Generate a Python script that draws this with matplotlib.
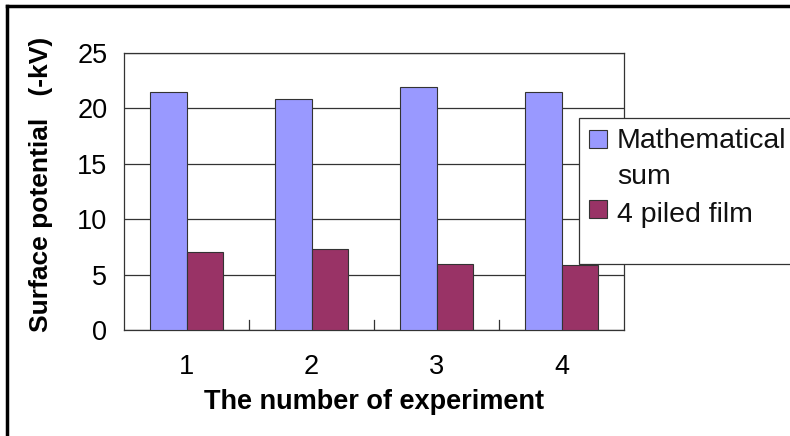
import matplotlib.pyplot as plt
import numpy as np
from matplotlib.patches import Rectangle
from matplotlib.lines import Line2D

plt.rcParams['font.family'] = ['Liberation Sans', 'DejaVu Sans']

# data
experiments = ['1', '2', '3', '4']
math_sum = [21.5, 20.85, 21.9, 21.5]
piled_film = [7.0, 7.3, 6.0, 5.9]
y_ticks = [0, 5, 10, 15, 20, 25]
series_names = ['Mathematical\nsum', '4 piled film']

blue = '#9999FF'
maroon = '#993366'
edge = '#333333'

fig = plt.figure(figsize=(7.9, 4.36), dpi=100)
W, H = 790, 436
# plot area in pixels: x 124..624, y 53..330
ax = fig.add_axes([124 / W, 1 - 330 / H, 500 / W, 277 / H])

x = np.arange(len(experiments))
bw = 0.29
ax.bar(x - bw / 2, math_sum, bw, color=blue, edgecolor=edge, linewidth=0.8, zorder=3)
ax.bar(x + bw / 2, piled_film, bw, color=maroon, edgecolor=edge, linewidth=0.8, zorder=3)

ax.set_xlim(-0.5, len(experiments) - 0.5)
ax.set_ylim(0, 25)
ax.set_yticks(y_ticks)
ax.set_yticklabels([str(v) for v in y_ticks], fontsize=19.5)
ax.yaxis.grid(True, color=edge, linewidth=0.9, zorder=0)
ax.tick_params(axis='y', length=0, pad=12)

# category labels at centres, tick marks at boundaries
ax.set_xticks(x)
ax.set_xticklabels(experiments, fontsize=19.5)
ax.tick_params(axis='x', length=0, pad=17)
for b in x[:-1] + 0.5:
    ax.plot([b, b], [0, 0.9], color=edge, linewidth=0.9, zorder=2)

for s in ax.spines.values():
    s.set_color(edge)
    s.set_linewidth(0.9)

ax.set_xlabel('The number of experiment', fontsize=19.5, fontweight='bold', labelpad=7)
fig.text(41 / W, 1 - 184 / H, 'Surface potential   (-kV)', rotation=90,
         fontsize=19, fontweight='bold', ha='center', va='center')

# legend box running off the right edge, drawn by hand so the key sits on the first line
fig.patches.append(Rectangle((579 / W, 1 - 264 / H), 230 / W, 146 / H,
                             transform=fig.transFigure, facecolor='white',
                             edgecolor=edge, linewidth=0.9, zorder=5))
key_tops = [130, 200]
text_base = [148, 222]
for name, col, kt, tb in zip(series_names, [blue, maroon], key_tops, text_base):
    fig.patches.append(Rectangle((589 / W, 1 - (kt + 18) / H), 18 / W, 18 / H,
                                 transform=fig.transFigure, facecolor=col,
                                 edgecolor=edge, linewidth=0.8, zorder=6))
    lines = name.split('\n')
    fig.text(617 / W, 1 - tb / H, lines[0], fontsize=20.5,
             color='#111111', va='baseline', ha='left', zorder=7)
    if len(lines) > 1:
        fig.text(617 / W, 1 - (tb + 36) / H, lines[1], fontsize=20.5,
                 color='#111111', va='baseline', ha='left', zorder=7)

# outer chart frame (top and left edges only are visible)
fig.lines.append(Line2D([7 / W, 1], [1 - 6 / H, 1 - 6 / H], transform=fig.transFigure,
                        color='black', linewidth=2.5))
fig.lines.append(Line2D([7 / W, 7 / W], [0, 1 - 6 / H], transform=fig.transFigure,
                        color='black', linewidth=2.5))

fig.savefig('out.png', dpi=100)
